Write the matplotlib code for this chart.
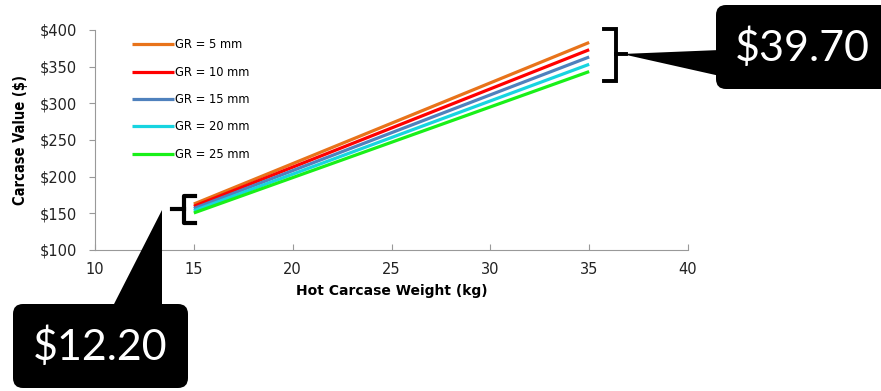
import matplotlib.pyplot as plt
from matplotlib.patches import FancyBboxPatch, Polygon

# carcase weight range and values at the end points for each grade rule depth
weights = [15, 35]
labels = ["GR = 5 mm", "GR = 10 mm", "GR = 15 mm", "GR = 20 mm", "GR = 25 mm"]
value_at_15 = [162.7, 159.6, 156.6, 153.5, 150.5]
value_at_35 = [383.0, 373.1, 363.2, 353.2, 343.3]
colors = ["#E8731A", "#FF0000", "#4F81BD", "#17D4E0", "#19F019"]

spread_low = "$12.20"
spread_high = "$39.70"

plt.rcParams['font.family'] = ['DejaVu Sans']

fig = plt.figure(figsize=(8.81, 3.91), dpi=100)
ax = fig.add_axes([95/881, 1 - 250/391, 593/881, 220/391])

for i in range(len(labels)):
    ax.plot(weights, [value_at_15[i], value_at_35[i]], color=colors[i], lw=2.3,
            label=labels[i], solid_capstyle='butt')

ax.set_xlim(10, 40)
ax.set_ylim(100, 400)
ax.set_xticks(range(10, 41, 5))
ax.set_yticks(range(100, 401, 50))
ax.set_yticklabels(["$%d" % v for v in range(100, 401, 50)])
ax.tick_params(axis='x', direction='in', length=4, color='#999999', labelsize=10.5, pad=9,
               labelcolor='#222222')
ax.tick_params(axis='y', direction='out', length=4, color='#999999', labelsize=10.5, pad=9,
               labelcolor='#222222')
for s in ['top', 'right']:
    ax.spines[s].set_visible(False)
for s in ['left', 'bottom']:
    ax.spines[s].set_color('#999999')
ax.set_xlabel("Hot Carcase Weight (kg)", fontsize=10, fontweight='bold', labelpad=5)
ax.set_ylabel("Carcase Value ($)", fontsize=10.5, fontweight='bold', labelpad=8,
              fontstretch='condensed')

ax.legend(loc='upper left', bbox_to_anchor=(0.045, 1.01), frameon=False, fontsize=8.3,
          handlelength=3.6, handletextpad=0.15, labelspacing=1.25)

# overlay in pixel coordinates for the callouts
ov = fig.add_axes([0, 0, 1, 1], facecolor='none')
ov.set_xlim(0, 881)
ov.set_ylim(391, 0)
ov.axis('off')

# right bracket
ov.plot([604, 616, 616, 604], [29, 29, 81, 81], color='black', lw=2.8, solid_joinstyle='miter')
ov.plot([616, 626], [54, 54], color='black', lw=2.8)
# left brace
ov.plot([195, 184, 184, 195], [196, 196, 223, 223], color='black', lw=3, solid_joinstyle='round')
ov.plot([172, 184], [209, 209], color='black', lw=3)

# callout for high end
ov.add_patch(FancyBboxPatch((716, 5), 176, 84, boxstyle="round,pad=0,rounding_size=10",
                            fc='black', ec='none'))
ov.add_patch(Polygon([[622, 54], [720, 50], [720, 76]], closed=True, fc='black', ec='none'))
ov.text(802, 48, spread_high, color='white', fontsize=31, ha='center', va='center',
        family=['Lato', 'DejaVu Sans'])

# callout for low end
ov.add_patch(FancyBboxPatch((13, 304), 175, 84, boxstyle="round,pad=0,rounding_size=10",
                            fc='black', ec='none'))
ov.add_patch(Polygon([[162, 210], [113, 306], [162, 306]], closed=True, fc='black', ec='none'))
ov.text(100, 347, spread_low, color='white', fontsize=31, ha='center', va='center',
        family=['Lato', 'DejaVu Sans'])

fig.savefig("out.png", dpi=100)
